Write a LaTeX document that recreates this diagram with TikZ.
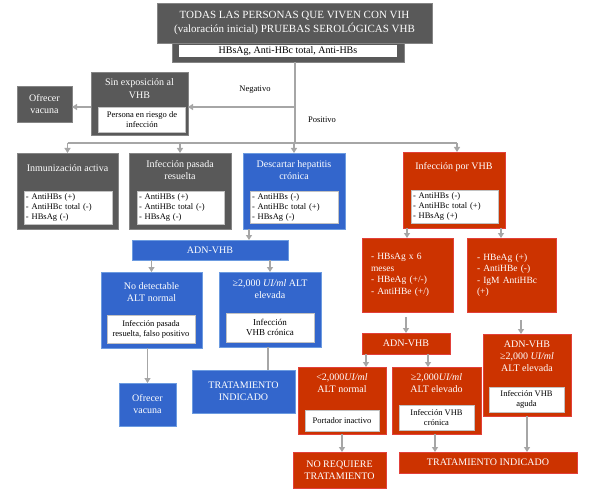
\documentclass[tikz,border=0pt]{standalone}
\usepackage{fontspec}
\setmainfont{Liberation Serif}
\usepackage{tikz}
\usetikzlibrary{arrows.meta,positioning}
\definecolor{vhbgray}{HTML}{595959}
\definecolor{vhbgrayln}{HTML}{858585}
\definecolor{vhbblue}{HTML}{3366CC}
\definecolor{vhbblueln}{HTML}{6C9BE0}
\definecolor{vhbred}{HTML}{CC3300}
\definecolor{vhbredln}{HTML}{E2403A}
\definecolor{vhbarrow}{HTML}{A6A6A6}

\begin{document}
\begin{tikzpicture}[
    x=1pt, y=-1pt,
    font=\fontsize{10}{12}\selectfont,
    bx/.style={draw, line width=0.8pt, inner sep=0pt, outer sep=0pt, text=white, align=center},
    gry/.style={bx, fill=vhbgray, draw=vhbgrayln},
    blu/.style={bx, fill=vhbblue, draw=vhbblueln},
    rd/.style={bx, fill=vhbred, draw=vhbredln},
    wht/.style={fill=white, draw=vhbgrayln!50, line width=0.4pt, inner sep=0pt, outer sep=0pt,
                align=center, font=\fontsize{8.5}{10}\selectfont},
    lst/.style={wht, align=left, inner xsep=2pt, font=\fontsize{8.5}{10}\selectfont},
    ttl/.style={text=white, align=center, inner sep=0pt},
    lnk/.style={draw=vhbarrow, line width=1.6pt},
    arr/.style={lnk, -{Triangle[width=6pt,length=5pt]}},
    ]
\useasboundingbox (0,0) rectangle (590,495);

% top block
\node[gry, minimum width=232pt, minimum height=19pt] (topb) at (288,52.5) {};
\node[gry, minimum width=275pt, minimum height=40pt, font=\fontsize{11}{14.5}\selectfont] (top) at (294.5,23)
  {TODAS LAS PERSONAS QUE VIVEN CON VIH\\(valoración inicial) PRUEBAS SEROLÓGICAS VHB};
\node[wht, draw=none, minimum width=218pt, minimum height=12pt, font=\fontsize{10}{11}\selectfont] (topw) at (288,51)
  {HBsAg, Anti-HBc total, Anti-HBs};

\coordinate (neg) at (295,107);
\coordinate (split) at (295,143);
\node[font=\fontsize{8.5}{9}\selectfont] (negl) at (255,90) {Negativo};
\node[font=\fontsize{8.5}{9}\selectfont] (posl) at (322,120) {Positivo};

% negative branch
\node[gry, minimum width=97pt, minimum height=63pt] (sinexp) at (139.5,103.5) {};
\node[ttl, font=\fontsize{10}{12.5}\selectfont] (sinexpt) at (139.5,88.5) {Sin exposición al\\VHB};
\node[wht, minimum width=87pt, minimum height=25pt] (sinexpw) at (142,119.5) {Persona en riesgo de\\infección};
\node[gry, minimum width=55pt, minimum height=36pt] (ofv1) at (44.5,104) {Ofrecer\\vacuna};

% second row
\node[gry, minimum width=101pt, minimum height=76pt] (inm) at (67.5,191) {};
\node[ttl] (inmt) at (67.5,168) {Inmunización activa};
\node[lst, minimum width=88pt, minimum height=33pt, text width=84pt] (inmw) at (68,207.5)
  {- AntiHBs (+)\\- AntiHBc total (-)\\- HBsAg (-)};

\node[gry, minimum width=102pt, minimum height=76pt] (pas) at (180,191) {};
\node[ttl] (past) at (180,170) {Infección pasada\\resuelta};
\node[lst, minimum width=87pt, minimum height=33pt, text width=83pt] (pasw) at (180.5,207.5)
  {- AntiHBs (+)\\- AntiHBc total (-)\\- HBsAg (-)};

\node[blu, minimum width=102pt, minimum height=76pt] (desc) at (294,191) {};
\node[ttl] (desct) at (294,170) {Descartar hepatitis\\crónica};
\node[lst, minimum width=88pt, minimum height=32pt, text width=84pt] (descw) at (294,207)
  {- AntiHBs (-)\\- AntiHBc total (+)\\- HBsAg (-)};

\node[rd, minimum width=102pt, minimum height=76pt] (inf) at (454,190) {};
\node[ttl] (inft) at (454,167) {Infección por VHB};
\node[lst, minimum width=87pt, minimum height=33pt, text width=83pt] (infw) at (454.5,206.5)
  {- AntiHBs (-)\\- AntiHBc total (+)\\- HBsAg (+)};

% blue branch
\node[blu, minimum width=156pt, minimum height=20pt] (adn1) at (210,250) {ADN-VHB};

\node[blu, minimum width=101pt, minimum height=76pt] (nodet) at (151.5,310) {};
\node[ttl] (nodett) at (151.5,292) {No detectable\\ALT normal};
\node[wht, minimum width=88pt, minimum height=28pt] (nodetw) at (151,329)
  {Infección pasada\\resuelta, falso positivo};

\node[blu, minimum width=102pt, minimum height=75pt] (cron) at (270,309.5) {};
\node[ttl] (cront) at (270,289) {≥2,000 \textit{UI/ml} ALT\\elevada};
\node[wht, minimum width=88pt, minimum height=29pt, font=\fontsize{9}{10.5}\selectfont] (cronw) at (270,327.5)
  {Infección\\VHB crónica};

\node[blu, minimum width=57pt, minimum height=43pt] (ofv2) at (147.5,404.5) {Ofrecer\\vacuna};
\node[blu, minimum width=103pt, minimum height=43pt] (trat1) at (243.5,391.5)
  {TRATAMIENTO\\INDICADO};

% red branch
\node[rd, minimum width=91pt, minimum height=74pt, inner xsep=9pt, text width=73pt, align=left,
      font=\fontsize{9.5}{11.5}\selectfont] (hbs6) at (407.5,275)
  {- HBsAg x 6\\meses\\- HBeAg (+/-)\\- AntiHBe (+/)};
\node[rd, minimum width=89pt, minimum height=74pt, inner xsep=10pt, text width=69pt, align=left,
      font=\fontsize{9.5}{11.5}\selectfont] (hbe) at (511.5,275)
  {- HBeAg (+)\\- AntiHBe (-)\\- IgM AntiHBc\\(+)};

\node[rd, minimum width=88pt, minimum height=21pt] (adn2) at (406,343.5) {ADN-VHB};

\node[rd, minimum width=88pt, minimum height=67pt] (low) at (342,400.5) {};
\node[ttl] (lowt) at (342,383) {<2,000\textit{UI/ml}\\ALT normal};
\node[wht, minimum width=74pt, minimum height=21pt] (loww) at (342,420.5) {Portador inactivo};

\node[rd, minimum width=89pt, minimum height=67pt] (high) at (436.5,400.5) {};
\node[ttl] (hight) at (436.5,383) {≥2,000\textit{UI/ml}\\ALT elevado};
\node[wht, minimum width=75pt, minimum height=25pt] (highw) at (436.5,417.5) {Infección VHB\\crónica};

\node[rd, minimum width=88pt, minimum height=82pt] (aguda) at (527,375) {};
\node[ttl] (agudat) at (527,356) {ADN-VHB\\≥2,000 \textit{UI/ml}\\ALT elevada};
\node[wht, minimum width=75pt, minimum height=25pt] (agudaw) at (526.5,399.5) {Infección VHB\\aguda};

\node[rd, minimum width=93pt, minimum height=36pt] (noreq) at (339.5,470)
  {NO REQUIERE\\TRATAMIENTO};
\node[rd, minimum width=178pt, minimum height=21pt] (trat2) at (488,462.5)
  {TRATAMIENTO INDICADO};

% connectors
\draw[lnk] ([xshift=7pt]topb.south) -- (split);
\draw[arr] (neg) -- (neg -| sinexp.east);
\draw[arr] (neg -| sinexp.west) -- (neg -| ofv1.east);
\draw[lnk] (split -| inm.north) -- ([xshift=3pt]split -| inf.north);
\foreach \n in {inm,pas,desc} \draw[arr] (split -| \n.north) -- (\n.north);
\draw[arr] ([xshift=3pt]split -| inf.north) -- ([xshift=3pt]inf.north);

\draw[arr] ([xshift=-45pt]desc.south) -- ([xshift=-45pt]desc.south |- adn1.north);
\draw[arr] (adn1.south -| nodet.north) -- (nodet.north);
\draw[arr] (adn1.south -| cron.north) -- (cron.north);
\draw[arr] (nodet.south -| ofv2.north) -- (ofv2.north);
\draw[lnk] ([xshift=-2pt]cron.south) -- ([xshift=-2pt]cron.south |- trat1.north);

\draw[arr] ([xshift=-47pt]inf.south) -- ([xshift=-47pt]inf.south |- hbs6.north);
\draw[arr] ([xshift=47pt]inf.south) -- ([xshift=47pt]inf.south |- hbe.north);
\draw[arr, shorten <=5pt] (hbs6.south -| adn2.north) -- (adn2.north);
\draw[arr, shorten <=8pt] ([xshift=9.5pt]hbe.south) -- ([xshift=9.5pt]hbe.south |- aguda.north);
\draw[arr] ([xshift=-40pt]adn2.south) -- ([xshift=-40pt]adn2.south |- low.north);
\draw[arr] ([xshift=22pt]adn2.south) -- ([xshift=22pt]adn2.south |- high.north);
\draw[arr] (low.south) -- (low.south |- noreq.north);
\draw[arr] ([xshift=-1.5pt]high.south) -- ([xshift=-1.5pt]high.south |- trat2.north);
\draw[arr] (aguda.south) -- (aguda.south |- trat2.north);
\end{tikzpicture}
\end{document}
